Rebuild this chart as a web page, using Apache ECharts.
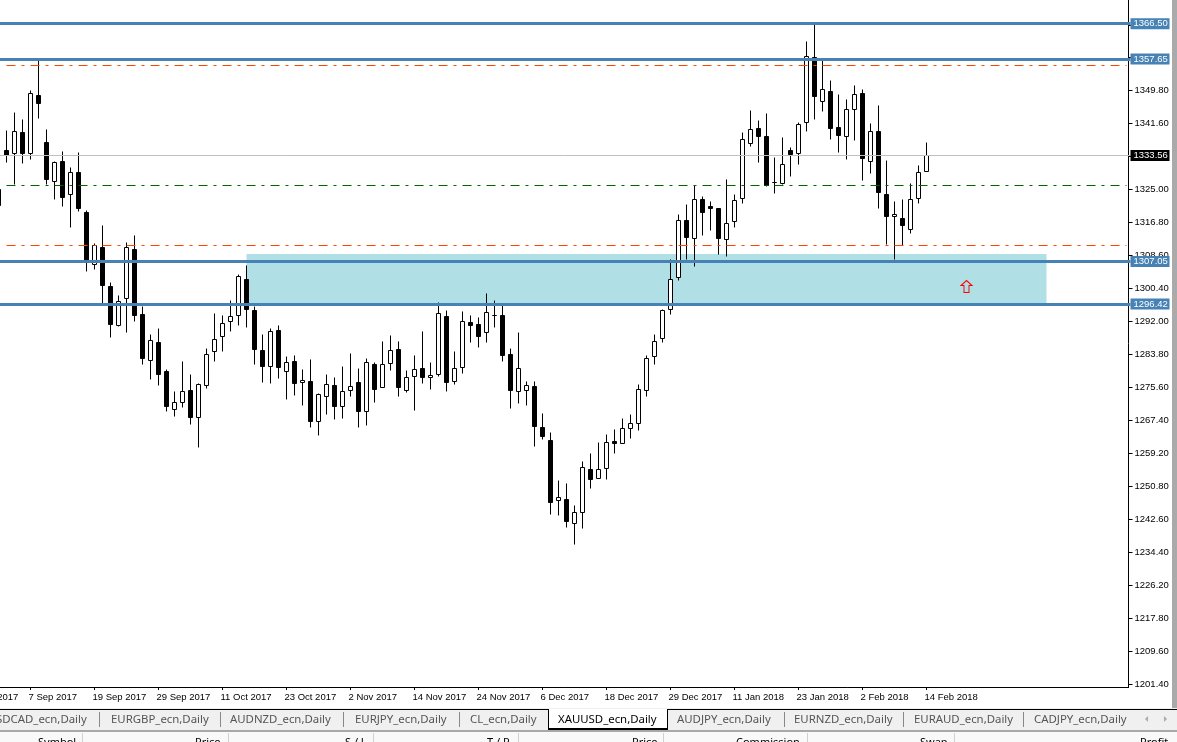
<!DOCTYPE html>
<html><head><meta charset="utf-8">
<style>html,body{margin:0;padding:0;background:#fff;overflow:hidden}#c{width:1177px;height:742px}</style>
<script src="https://cdn.jsdelivr.net/npm/echarts@6/dist/echarts.min.js"></script>
</head><body><div id="c"></div>
<script>
const dates = ['28 Aug 2017','29 Aug 2017','30 Aug 2017','31 Aug 2017','1 Sep 2017','4 Sep 2017','5 Sep 2017','6 Sep 2017','7 Sep 2017','8 Sep 2017','11 Sep 2017','12 Sep 2017','13 Sep 2017','14 Sep 2017','15 Sep 2017','18 Sep 2017','19 Sep 2017','20 Sep 2017','21 Sep 2017','22 Sep 2017','25 Sep 2017','26 Sep 2017','27 Sep 2017','28 Sep 2017','29 Sep 2017','2 Oct 2017','3 Oct 2017','4 Oct 2017','5 Oct 2017','6 Oct 2017','9 Oct 2017','10 Oct 2017','11 Oct 2017','12 Oct 2017','13 Oct 2017','16 Oct 2017','17 Oct 2017','18 Oct 2017','19 Oct 2017','20 Oct 2017','23 Oct 2017','24 Oct 2017','25 Oct 2017','26 Oct 2017','27 Oct 2017','30 Oct 2017','31 Oct 2017','1 Nov 2017','2 Nov 2017','3 Nov 2017','6 Nov 2017','7 Nov 2017','8 Nov 2017','9 Nov 2017','10 Nov 2017','13 Nov 2017','14 Nov 2017','15 Nov 2017','16 Nov 2017','17 Nov 2017','20 Nov 2017','21 Nov 2017','22 Nov 2017','23 Nov 2017','24 Nov 2017','27 Nov 2017','28 Nov 2017','29 Nov 2017','30 Nov 2017','1 Dec 2017','4 Dec 2017','5 Dec 2017','6 Dec 2017','7 Dec 2017','8 Dec 2017','11 Dec 2017','12 Dec 2017','13 Dec 2017','14 Dec 2017','15 Dec 2017','18 Dec 2017','19 Dec 2017','20 Dec 2017','21 Dec 2017','22 Dec 2017','26 Dec 2017','27 Dec 2017','28 Dec 2017','29 Dec 2017','2 Jan 2018','3 Jan 2018','4 Jan 2018','5 Jan 2018','8 Jan 2018','9 Jan 2018','10 Jan 2018','11 Jan 2018','12 Jan 2018','15 Jan 2018','16 Jan 2018','17 Jan 2018','18 Jan 2018','19 Jan 2018','22 Jan 2018','23 Jan 2018','24 Jan 2018','25 Jan 2018','26 Jan 2018','29 Jan 2018','30 Jan 2018','31 Jan 2018','1 Feb 2018','2 Feb 2018','5 Feb 2018','6 Feb 2018','7 Feb 2018','8 Feb 2018','9 Feb 2018','12 Feb 2018','13 Feb 2018','14 Feb 2018'];
const opens = ['-','-','-','-',1325.05,
1334.80,1334.05,1339.30,1334.05,1348.55,1336.80,1327.05,1332.05,1323.80,1329.30,
1319.30,1306.30,1310.55,1300.80,1291.05,1297.80,1310.05,1293.80,1282.30,1286.80,
1279.55,1270.05,1271.80,1274.80,1268.05,1276.05,1284.55,1288.30,1292.05,1293.55,
1302.55,1294.80,1284.80,1280.80,1289.80,1279.55,1282.05,1276.80,1277.05,1267.05,
1273.30,1276.05,1270.80,1274.80,1276.80,1269.55,1281.30,1275.55,1281.55,1285.05,
1274.80,1278.30,1280.30,1278.05,1278.80,1293.30,1277.05,1280.55,1291.80,1291.30,
1289.30,1293.55,1293.55,1283.80,1274.55,1274.80,1275.80,1265.55,1262.30,1247.30,
1247.55,1241.55,1244.30,1255.05,1252.80,1255.30,1262.05,1261.55,1265.30,1266.55,
1274.80,1283.30,1287.80,1295.05,1303.05,1317.30,1312.80,1322.55,1320.80,1320.30,
1312.55,1317.05,1322.80,1336.55,1340.30,1338.30,1326.80,1326.55,1334.80,1334.05,
1341.80,1358.05,1347.05,1349.55,1340.55,1338.30,1345.05,1349.05,1332.05,1339.55,
1323.80,1318.30,1317.80,1315.05,1322.80,1329.55];
const closes = ['-','-','-','-',1321.05,
1333.55,1339.55,1334.05,1349.05,1346.55,1327.55,1331.80,1323.05,1329.30,1320.30,
1307.30,1311.05,1301.05,1291.30,1297.05,1310.55,1293.55,1282.80,1287.30,1278.80,
1270.80,1271.80,1274.55,1268.05,1276.30,1283.80,1287.55,1291.55,1293.30,1303.30,
1295.05,1285.05,1280.80,1289.55,1280.55,1281.80,1276.55,1277.30,1267.05,1273.80,
1276.30,1270.80,1274.55,1275.80,1269.55,1281.80,1275.05,1281.30,1284.80,1275.55,
1278.05,1280.05,1278.05,1278.55,1294.05,1276.80,1280.30,1292.05,1291.05,1288.30,
1294.30,1293.55,1283.55,1274.80,1280.30,1276.05,1265.80,1263.30,1246.80,1248.05,
1242.05,1244.30,1255.55,1252.55,1255.05,1261.80,1261.55,1265.30,1266.55,1275.05,
1282.80,1287.05,1294.80,1302.55,1317.30,1313.05,1322.55,1319.30,1320.30,1312.80,
1316.55,1322.30,1337.55,1340.05,1338.30,1326.05,1326.80,1331.30,1333.80,1341.30,
1358.30,1348.30,1350.05,1340.30,1338.55,1345.05,1348.80,1332.80,1339.55,1324.30,
1318.30,1318.80,1316.05,1322.55,1329.30,1333.55];
const lows = ['-','-','-','-',1321.05,
1331.80,1326.30,1331.55,1332.55,1342.80,1326.30,1322.55,1320.80,1315.55,1319.55,
1304.55,1305.05,1296.55,1288.05,1290.80,1289.30,1292.05,1281.30,1277.55,1276.05,
1269.55,1268.30,1270.55,1266.30,1260.55,1275.30,1282.05,1284.55,1289.55,1291.05,
1290.55,1281.30,1276.80,1276.55,1277.80,1272.55,1273.55,1271.05,1265.55,1263.55,
1268.80,1267.55,1267.80,1273.30,1265.55,1266.05,1271.80,1275.55,1279.80,1273.30,
1274.30,1269.80,1276.55,1275.05,1278.30,1274.55,1276.30,1279.05,1286.80,1285.55,
1286.80,1290.55,1282.05,1270.30,1271.55,1271.05,1260.80,1262.55,1243.80,1243.55,
1240.55,1236.30,1240.30,1250.30,1252.80,1252.55,1259.05,1261.55,1262.80,1264.80,
1273.30,1281.30,1286.80,1293.80,1302.30,1307.55,1305.80,1313.55,1314.80,1308.80,
1308.30,1315.55,1321.55,1335.80,1331.80,1325.80,1324.05,1326.30,1328.30,1331.30,
1339.55,1342.55,1344.55,1337.55,1334.30,1332.55,1337.30,1327.30,1329.05,1320.30,
1311.30,1307.55,1311.05,1314.05,1321.55,1329.55];
const highs = ['-','-','-','-',1325.05,
1339.80,1344.30,1342.55,1349.80,1357.55,1340.05,1332.05,1334.55,1330.55,1334.30,
1319.80,1311.55,1316.05,1301.80,1298.55,1311.80,1313.55,1295.80,1288.80,1290.30,
1280.05,1274.55,1282.05,1278.80,1276.55,1285.30,1294.05,1293.55,1297.30,1303.80,
1306.05,1295.80,1288.80,1290.30,1291.05,1283.30,1283.55,1280.05,1282.55,1274.05,
1278.80,1278.05,1280.80,1284.05,1280.30,1282.80,1281.80,1287.05,1288.55,1287.05,
1279.80,1283.55,1289.55,1281.80,1296.80,1294.80,1284.55,1294.55,1293.55,1293.05,
1299.05,1297.30,1296.30,1285.30,1289.30,1277.05,1277.05,1269.05,1264.30,1252.30,
1251.55,1246.05,1257.05,1259.05,1261.80,1263.80,1265.05,1267.80,1268.80,1276.30,
1283.55,1288.80,1295.05,1307.55,1318.80,1321.30,1326.05,1323.30,1322.05,1320.30,
1327.55,1323.80,1339.30,1344.80,1342.30,1344.05,1333.05,1338.05,1335.55,1341.80,
1362.05,1366.30,1357.30,1352.30,1348.80,1347.55,1351.05,1350.05,1341.55,1346.05,
1332.30,1322.05,1322.55,1326.55,1331.05,1336.80];
const yTicks = [1366.20,1358.00,1349.80,1341.60,1333.40,1325.00,1316.80,1308.60,1300.40,1292.00,1283.80,1275.60,1267.40,1259.20,1250.80,1242.60,1234.40,1226.20,1217.80,1209.60,1201.40];
const levels = [1366.50,1357.65,1307.05,1296.42];
const currentPrice = 1333.56;
const redLevels = [1356.05,1311.05];
const greenLevels = [1326.10];
const zoneTop = 1308.925, zoneBottom = 1296.42;
const arrowPrice = 1300.8;
const tabNames = ['SDCAD_ecn,Daily','EURGBP_ecn,Daily','AUDNZD_ecn,Daily','EURJPY_ecn,Daily','CL_ecn,Daily','XAUUSD_ecn,Daily','AUDJPY_ecn,Daily','EURNZD_ecn,Daily','EURAUD_ecn,Daily','CADJPY_ecn,Daily'];
const tabLefts = [-4,111,230,355,470,558,677,794,914,1034];
const tabSeps = [99,220,343,459,784,903,1023];
const headers = ['Symbol','Price','S / L','T / P','Price','Commission','Swap','Profit'];
const headerLefts = [38,195,345,487,632,736,920,1140];
const headerSeps = [82,228,373,518,663,807,954];

const FUTURE = 25;
const cats = dates.concat(new Array(FUTURE).fill(''));
const LBL = 'Liberation Sans, Arial, sans-serif';
const candle = dates.map((d,i)=> opens[i]==='-' ? ['-','-','-','-'] : [opens[i],closes[i],lows[i],highs[i]]);

const line = (v,color,w,text,bg)=>({yAxis:v,lineStyle:{color:color,width:w,type:'solid'},
  label:{show:true,position:'end',distance:0,formatter:text.toFixed(2),color:'#fff',backgroundColor:bg,
    fontFamily:LBL,fontSize:9.5,width:36,height:11,lineHeight:11,padding:[0,0,0,3],align:'left',verticalAlign:'middle'}});
const dash = (v,color)=>{
  const st={color:color,width:1,type:[9,6,3,6]};
  return [{xAxis:5,yAxis:v,lineStyle:st,label:{show:false}},{xAxis:145,yAxis:v,lineStyle:st,label:{show:false}}];
};

const ui = [];
const rect=(x,y,w,h,fill,z)=>ui.push({type:'rect',silent:true,z:z||100,shape:{x,y,width:w,height:h},style:{fill}});
const txt=(x,y,t,fill,size)=>ui.push({type:'text',silent:true,z:103,x,y,style:{text:t,fill,font:(size||12)+'px "Noto Sans", sans-serif',textVerticalAlign:'middle'}});
rect(1129,686,2,2,'#fff',100);
rect(0,705,1177,37,'#fff',100);
rect(1172,0,5,711,'#aaaaaa',100);
rect(0,708,1177,22,'#f0f0f0',101);
rect(0,730,1177,2,'#a8a8a8',101);
rect(0,732,1177,10,'#f9f9f9',101);
tabSeps.forEach(x=>rect(x,712,1,15,'#888',102));
headerSeps.forEach(x=>rect(x,733,1,9,'#d0d0d0',102));
rect(548,709,120,21,'#000',102);
rect(549,709,118,19,'#fff',102);
rect(0,709,548,1,'#000',102);
rect(668,709,509,1,'#000',102);
tabNames.forEach((t,i)=>txt(tabLefts[i],719.5,t,i===5?'#000':'#555',11.4));
headers.forEach((t,i)=>txt(headerLefts[i],743,t,'#000',11));
ui.push({type:'polygon',silent:true,z:103,shape:{points:[[1148,716],[1148,722],[1145,719]]},style:{fill:'#aaa'}});
ui.push({type:'polygon',silent:true,z:103,shape:{points:[[1164,716],[1164,722],[1167,719]]},style:{fill:'#aaa'}});

const chart = echarts.init(document.getElementById('c'),null,{renderer:'canvas'});
chart.setOption({
  animation:false,
  backgroundColor:'#fff',
  graphic:{elements:ui},
  grid:{left:-37.5,top:0,width:1168,height:687,containLabel:false,outerBoundsMode:'none'},
  xAxis:{type:'category',data:cats,boundaryGap:true,
    axisLine:{lineStyle:{color:'#000',width:1}},
    axisTick:{show:true,alignWithLabel:true,length:3,lineStyle:{color:'#000'},interval:(i,v)=>i%8===0&&v!==''},
    axisLabel:{show:true,align:'left',margin:5,padding:[0,0,0,-2],color:'#000',fontFamily:LBL,fontSize:9.5,hideOverlap:false,
      interval:(i,v)=>i%8===0&&v!==''},
    splitLine:{show:false}},
  yAxis:{type:'value',position:'right',offset:-2,min:1200.675,max:1372.425,scale:true,
    axisLine:{show:true,onZero:false,lineStyle:{color:'#000',width:1}},
    axisTick:{show:true,length:4,lineStyle:{color:'#000'},customValues:yTicks},
    axisLabel:{show:true,margin:6,padding:[2,0,0,0],color:'#000',fontFamily:LBL,fontSize:9.5,customValues:yTicks,
      formatter:v=>v.toFixed(2),showMinLabel:true,showMaxLabel:true},
    splitLine:{show:false}},
  series:[{
    type:'candlestick',data:candle,barWidth:4,silent:true,clip:true,
    itemStyle:{color:'#fff',color0:'#000',borderColor:'#000',borderColor0:'#000',borderWidth:1},
    markArea:{silent:true,itemStyle:{color:'#b0e0e6'},
      data:[[{xAxis:35,yAxis:zoneTop},{xAxis:135,yAxis:zoneBottom}]]},
    markLine:{silent:true,symbol:'none',animation:false,
      data:[
        ...redLevels.map(v=>dash(v,'#ff4500')),
        ...greenLevels.map(v=>dash(v,'#006400')),
        line(currentPrice,'#c0c0c0',1,currentPrice,'#000'),
        ...levels.map(v=>line(v,'#4682b4',3,v,'#4682b4'))
      ]},
    markPoint:{silent:true,animation:false,
      data:[{coord:[125,arrowPrice],symbol:'path://M5.5 0 L11 5 L8 5 L8 12 L3 12 L3 5 L0 5 Z',symbolSize:[11,12],
        itemStyle:{color:'transparent',borderColor:'#ff0000',borderWidth:1},label:{show:false}}]}
  }]
});
</script></body></html>
